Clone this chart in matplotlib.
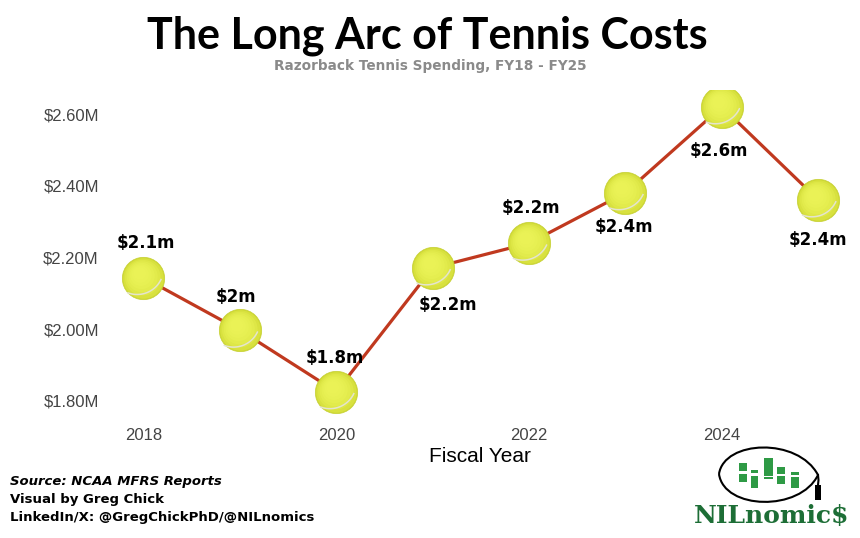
import numpy as np
import matplotlib
matplotlib.use('Agg')
import matplotlib.pyplot as plt
from matplotlib.path import Path
from matplotlib.patches import PathPatch, Rectangle
from matplotlib.ticker import FuncFormatter

# data (spending in $M)
years = [2018, 2019, 2020, 2021, 2022, 2023, 2024, 2025]
spend = [2.144, 1.997, 1.825, 2.171, 2.240, 2.381, 2.621, 2.361]
xticks = [2018, 2020, 2022, 2024]
yticks = [1.8, 2.0, 2.2, 2.4, 2.6]

# label placement (points): dx, dy relative to each ball
label_dx = [2, -3, -1, 11, 1, -1, -2, 0]
label_dy = [25, 24, 24, -27, 25, -25, -32, -29]


def value_label(v):
    s = f"{v:.1f}".rstrip('0').rstrip('.')
    return f"${s}m"


def fixed_marker(verts, codes):     # keep marker scale fixed to the unit circle
    verts = [(-1, -1), (1, 1)] + list(verts)
    codes = [Path.MOVETO, Path.MOVETO] + list(codes)
    return Path(verts, codes)


def disc_marker(cx, cy, r):
    t = np.linspace(0, 2*np.pi, 60)
    v = np.c_[cx + r*np.cos(t), cy + r*np.sin(t)]
    return fixed_marker(v, [Path.MOVETO] + [Path.LINETO]*(len(v)-2) + [Path.CLOSEPOLY])


# ball shading layers and seam
shades = [disc_marker(-0.03*k, 0.04*k, 0.95 - 0.11*k) for k in range(7)]
a = np.radians(np.linspace(-112, -24, 30))
sm = np.c_[-0.3 + 1.25*np.cos(a), 0.45 + 1.25*np.sin(a)]
seam = fixed_marker(sm, [Path.MOVETO] + [Path.LINETO]*(len(sm)-1))

fig = plt.figure(figsize=(8.6, 5.38), dpi=100)
ax = fig.add_axes([110/860, 123/538, 740/860, 325/538])

ax.plot(years, spend, color='#c0391f', lw=2.3, zorder=2)
ax.scatter(years, spend, s=930, color='#cfd934', edgecolor='#c6d033', lw=0.5, zorder=3)
for m in shades:
    ax.scatter(years, spend, s=930, marker=m, color='#eef65a', alpha=0.3, lw=0, zorder=4)
ax.scatter(years, spend, s=930, marker=seam, facecolor='none', edgecolor='#e4e4cf', lw=1.1, zorder=5)

for x, y, dx, dy in zip(years, spend, label_dx, label_dy):
    ax.annotate(value_label(y), (x, y), xytext=(dx, dy), textcoords='offset points',
                ha='center', va='center', fontsize=12, fontweight='bold',
                family='DejaVu Sans', color='black', zorder=6)

ax.set_xlim(2017.6525, 2025.329)
ax.set_ylim(1.760, 2.668)
ax.set_xticks(xticks)
ax.set_yticks(yticks)
ax.yaxis.set_major_formatter(FuncFormatter(lambda v, p: f"${v:.2f}M"))
ax.tick_params(length=0, labelsize=12, labelcolor='#444444', pad=9)
ax.tick_params(axis='y', pad=8)
for lab in ax.get_xticklabels() + ax.get_yticklabels():
    lab.set_family('Liberation Sans')
for s in ax.spines.values():
    s.set_visible(False)
ax.set_xlabel('Fiscal Year', fontsize=15, family='Liberation Sans', labelpad=3)

fig.text(0.497, 1 - 36/538, 'The Long Arc of Tennis Costs', ha='center', va='center',
         fontsize=31, fontweight='bold', family='Lato')
fig.text(0.5, 1 - 66/538, 'Razorback Tennis Spending, FY18 - FY25', ha='center', va='center',
         fontsize=9.8, fontweight='bold', family='DejaVu Sans', color='#8a8a8a')

fig.text(10/860, 1 - 482/538, 'Source: NCAA MFRS Reports', fontsize=9.5, fontweight='bold',
         style='italic', family='DejaVu Sans', va='center')
fig.text(10/860, 1 - 500/538, 'Visual by Greg Chick', fontsize=9.5, fontweight='bold',
         family='DejaVu Sans', va='center')
fig.text(10/860, 1 - 518/538, 'LinkedIn/X: @GregChickPhD/@NILnomics', fontsize=9.5,
         fontweight='bold', family='DejaVu Sans', va='center')

# NILnomic$ logo, drawn in figure pixel coords
lg = fig.add_axes([680/860, 0, 180/860, 98/538])
lg.set_xlim(680, 860)
lg.set_ylim(538, 440)
lg.axis('off')
lens = Path([(719, 474), (724, 440), (798, 437), (818, 475), (800, 512), (724, 510), (719, 474)],
            [Path.MOVETO, Path.CURVE4, Path.CURVE4, Path.CURVE4,
             Path.CURVE4, Path.CURVE4, Path.CURVE4])
lg.add_patch(PathPatch(lens, fill=False, ec='black', lw=1.5))
bars = [(739, 747, 463, 471), (739, 747, 474, 482),
        (751, 758, 470, 473), (751, 758, 476, 488),
        (764, 773, 458, 476), (764, 773, 477, 479),
        (777, 785, 467, 474), (777, 785, 476, 484),
        (791, 799, 472, 475), (791, 799, 477, 488)]
for x0, x1, y0, y1 in bars:
    lg.add_patch(Rectangle((x0, y0), x1 - x0, y1 - y0, color='#2e9a45', lw=0))
lg.plot([818, 818.5, 818], [475, 480, 485], color='black', lw=1.5)
lg.add_patch(Rectangle((815, 485), 6, 15, color='black', lw=0))
lg.text(772, 516, 'NILnomic$', ha='center', va='center', fontsize=18, fontweight='bold',
        family='DejaVu Serif', color='#1d6e36')

fig.savefig('out.png', dpi=100, facecolor='white')
